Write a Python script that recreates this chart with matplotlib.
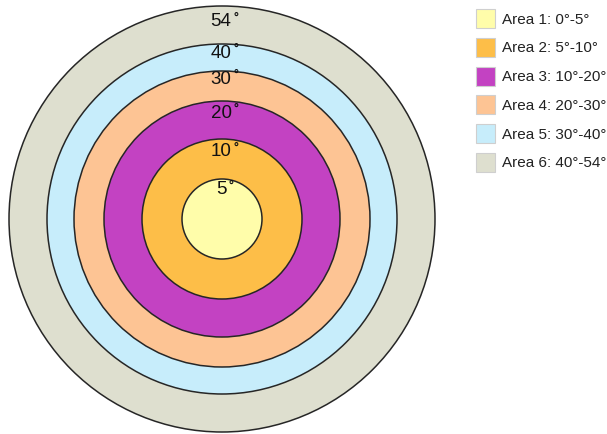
import matplotlib
matplotlib.use("Agg")
import matplotlib.pyplot as plt
from matplotlib.patches import Circle, Rectangle

# ---- data ----
area_names = ["Area 1", "Area 2", "Area 3", "Area 4", "Area 5", "Area 6"]
deg_lo = [0, 5, 10, 20, 30, 40]
deg_hi = [5, 10, 20, 30, 40, 54]
ring_labels = ["5", "10", "20", "30", "40", "54"]

# ---- style / layout ----
colors = ["#FFFDAA", "#FDBE48", "#C342C2", "#FDC494", "#C7EDFB", "#DEDFCF"]
ring_radius_px = [40, 80, 118, 148, 175, 213]   # display radius of each outer boundary
center = (222, 220)
label_y = [190, 152, 113, 79, 53, 22]

plt.rcParams['font.family'] = ['Liberation Sans', 'DejaVu Sans']
fig = plt.figure(figsize=(6.07, 4.35), dpi=100)
ax = fig.add_axes([0, 0, 1, 1])
ax.set_xlim(0, 607)
ax.set_ylim(435, 0)
ax.set_aspect('equal')
ax.axis('off')

# rings, outer first
for i in reversed(range(len(area_names))):
    ax.add_patch(Circle(center, ring_radius_px[i], facecolor=colors[i],
                        edgecolor="#262626", linewidth=1.1, zorder=1 + (5 - i)))

# ring labels
for i, lab in enumerate(ring_labels):
    ax.text(center[0] - 1, label_y[i], lab, fontsize=13.5, ha='center', va='center',
            color="#111111", zorder=20)
    w = 5.0 * len(lab)
    ax.text(center[0] - 1 + w + 5, label_y[i] - 4, "°", fontsize=9, fontweight='bold',
            ha='center', va='center', color="#111111", zorder=20)

# legend
row_y0, row_dy = 19.5, 28.8
for i, name in enumerate(area_names):
    y = row_y0 + i * row_dy
    ax.add_patch(Rectangle((475.5, y - 9.5), 19, 19, facecolor=colors[i],
                           edgecolor="#cfcfcf", linewidth=0.8, zorder=5))
    ax.text(502, y, f"{name}: {deg_lo[i]}°-{deg_hi[i]}°", fontsize=11,
            ha='left', va='center', color="#222222")

fig.savefig("out.png", dpi=100)
